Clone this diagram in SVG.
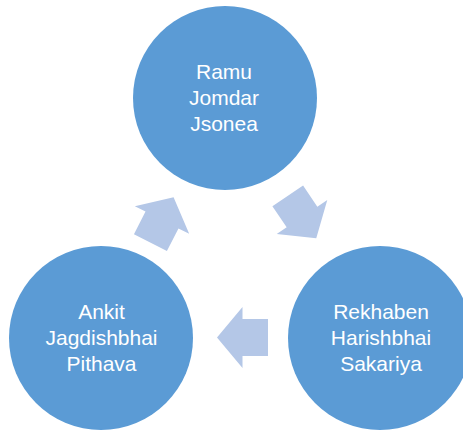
<svg xmlns="http://www.w3.org/2000/svg" width="463" height="432" viewBox="0 0 463 432">
<style>
.node{fill:#5B9BD5}
.lbl{font-family:"Liberation Sans",Arial,sans-serif;font-size:21px;fill:#FFFFFF;text-anchor:middle}
.arr{fill:#B4C7E7}
</style>
<defs>
<polygon id="blk" points="-25.5,-18.5 0,-18.5 0,-30.5 25.5,0 0,30.5 0,18.5 -25.5,18.5"/>
</defs>
<rect width="463" height="432" fill="#FFFFFF"/>
<g id="connectors">
<use href="#blk" class="arr" transform="translate(302,217) rotate(56)"/>
<use href="#blk" class="arr" transform="translate(242.5,337.5) rotate(180)"/>
<use href="#blk" class="arr" transform="translate(162,220) rotate(-63)"/>
</g>
<g id="node-ramu">
<circle class="node" cx="225" cy="98" r="92"/>
<text class="lbl" x="224" y="79">Ramu</text>
<text class="lbl" x="224" y="105">Jomdar</text>
<text class="lbl" x="224" y="131">Jsonea</text>
</g>
<g id="node-rekhaben">
<circle class="node" cx="380" cy="338" r="92"/>
<text class="lbl" x="381" y="319">Rekhaben</text>
<text class="lbl" x="381" y="345">Harishbhai</text>
<text class="lbl" x="381" y="371">Sakariya</text>
</g>
<g id="node-ankit">
<circle class="node" cx="101" cy="338" r="92"/>
<text class="lbl" x="101.5" y="319">Ankit</text>
<text class="lbl" x="101.5" y="345">Jagdishbhai</text>
<text class="lbl" x="101.5" y="371">Pithava</text>
</g>
</svg>
